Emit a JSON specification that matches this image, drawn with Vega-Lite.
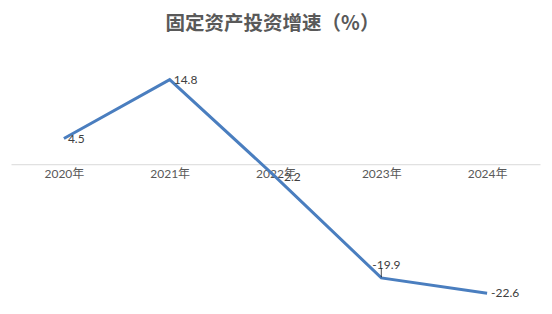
{
  "$schema": "https://vega.github.io/schema/vega-lite/v6.json",
  "autosize": {"type": "none"},
  "padding": {"left": 11, "top": 50, "right": 12, "bottom": 7},
  "width": 529,
  "height": 257,
  "background": "white",
  "config": {"view": {"stroke": null}, "font": "Lato, Noto Sans CJK SC"},
  "title": {
    "text": "固定资产投资增速（%）",
    "font": "Noto Sans CJK SC",
    "fontSize": 19.5,
    "fontWeight": "bold",
    "color": "#595959",
    "anchor": "middle",
    "offset": 16,
    "dx": -3
  },
  "data": {
    "values": [
      {"year": "2020年", "value": 4.5},
      {"year": "2021年", "value": 14.8},
      {"year": "2022年", "value": -2.2},
      {"year": "2023年", "value": -19.9},
      {"year": "2024年", "value": -22.6}
    ]
  },
  "encoding": {
    "x": {
      "field": "year",
      "type": "ordinal",
      "sort": null,
      "scale": {"type": "point", "padding": 0.5},
      "axis": {
        "title": null,
        "labelAngle": 0,
        "ticks": false,
        "domainColor": "#D9D9D9",
        "domainWidth": 1,
        "labelColor": "#595959",
        "labelFontSize": 12,
        "labelFont": "Lato, Noto Sans CJK SC",
        "labelPadding": 4,
        "offset": {"expr": "scale('y', 0) - height"}
      }
    },
    "y": {
      "field": "value",
      "type": "quantitative",
      "scale": {"domain": [-25, 20], "nice": false, "zero": false},
      "axis": null
    }
  },
  "layer": [
    {
      "mark": {"type": "line", "color": "#4A7EBF", "strokeWidth": 3}
    },
    {
      "transform": [{"filter": "datum.year !== '2023年'"}],
      "mark": {"type": "text", "align": "left", "baseline": "middle", "dx": 4, "fontSize": 12, "color": "#404040"},
      "encoding": {"text": {"field": "value", "type": "nominal"}}
    },
    {
      "transform": [{"filter": "datum.year === '2023年'"}],
      "mark": {"type": "text", "align": "left", "baseline": "middle", "dx": -9, "dy": -13, "fontSize": 12, "color": "#404040"},
      "encoding": {"text": {"field": "value", "type": "nominal"}}
    },
    {
      "transform": [{"filter": "datum.year === '2023年'"}],
      "mark": {"type": "tick", "orient": "vertical", "size": 9, "thickness": 1, "color": "#000000", "yOffset": -5}
    }
  ]
}
